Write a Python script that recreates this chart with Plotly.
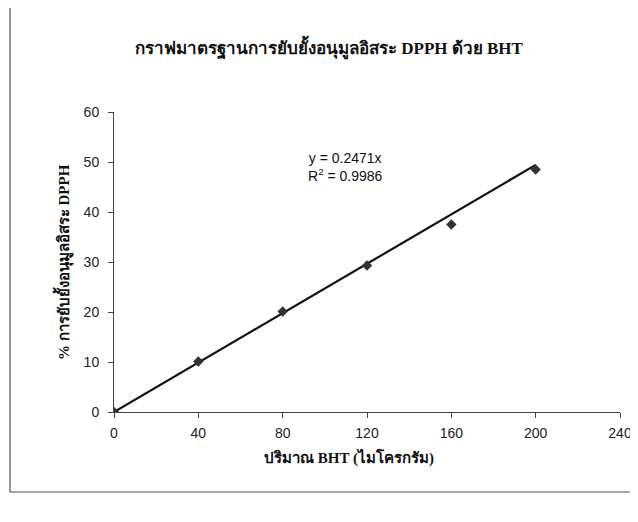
import plotly.graph_objects as go

# data
bht_ug = [0, 40, 80, 120, 160, 200]
inhibition_pct = [0, 10.1, 20.1, 29.3, 37.5, 48.5]
trend_x = [0, 200]
trend_y = [0, 49.42]
x_ticks = [0, 40, 80, 120, 160, 200, 240]
y_ticks = [0, 10, 20, 30, 40, 50, 60]

title_text = "กราฟมาตรฐานการยับยั้งอนุมูลอิสระ DPPH ด้วย BHT"
x_title = "ปริมาณ BHT (ไมโครกรัม)"
y_title = "% การยับยั้งอนุมูลอิสระ DPPH"
eq_text = "y = 0.2471x<br>R<sup>2</sup> = 0.9986"

OFF = 8  # page body margin
W, H = 628, 500
L, R, T, B = 114 - OFF, 620 - OFF, 112 - OFF, 412 - OFF

fig = go.Figure()
fig.add_trace(go.Scatter(x=trend_x, y=trend_y, mode="lines",
                         line=dict(color="#111111", width=2.2), showlegend=False))
fig.add_trace(go.Scatter(x=bht_ug, y=inhibition_pct, mode="markers",
                         marker=dict(symbol="diamond", size=8, color="#333333"),
                         showlegend=False))

def px(pxv):
    return (pxv - OFF - L) / (R - L)

def py(pyv):
    return (B - (pyv - OFF)) / (B - T)

fig.add_shape(type="rect", xref="paper", yref="paper",
              x0=px(10), x1=px(632), y0=py(492), y1=py(6),
              line=dict(color="#555555", width=1.2), fillcolor="rgba(0,0,0,0)")

common = dict(xref="paper", yref="paper", showarrow=False, xanchor="center", yanchor="middle")
fig.add_annotation(text=f"<b>{title_text}</b>", x=px(329), y=py(48),
                   font=dict(family="Liberation Serif, serif", size=17, color="#111111"), **common)
fig.add_annotation(text=eq_text, x=px(345), y=py(167), align="center",
                   font=dict(family="Liberation Sans, Arial, sans-serif", size=14, color="#111111"), **common)
fig.add_annotation(text=f"<b>{x_title}</b>", x=px(349), y=py(457),
                   font=dict(family="Liberation Serif, serif", size=15, color="#111111"), **common)
fig.add_annotation(text=f"<b>{y_title}</b>", x=px(63), y=py(262), textangle=-90,
                   font=dict(family="Liberation Serif, serif", size=15, color="#111111"), **common)

fig.update_xaxes(range=[0, 240], tickvals=x_ticks, showgrid=False, zeroline=False,
                 automargin=False,
                 showline=True, linecolor="#444444", linewidth=1,
                 ticks="outside", ticklen=5, tickcolor="#444444",
                 ticklabelstandoff=3,
                 tickfont=dict(family="Liberation Sans, Arial, sans-serif", size=14, color="#222222"))
fig.update_yaxes(range=[0, 60], tickvals=y_ticks, showgrid=False, zeroline=False,
                 automargin=False,
                 showline=True, linecolor="#444444", linewidth=1,
                 ticks="outside", ticklen=5, tickcolor="#444444",
                 ticklabelstandoff=6,
                 tickfont=dict(family="Liberation Sans, Arial, sans-serif", size=14, color="#222222"))

fig.update_layout(width=W, height=H, paper_bgcolor="white", plot_bgcolor="white",
                  margin=dict(l=L, r=W - R, t=T, b=H - B), showlegend=False)

fig.write_html("out.html", config={"responsive": False})
